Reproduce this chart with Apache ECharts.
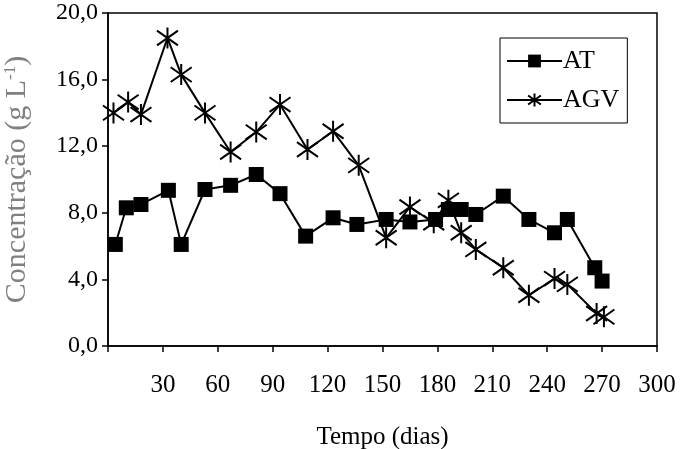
<!DOCTYPE html>
<html><head><meta charset="utf-8">
<script src="https://cdn.jsdelivr.net/npm/echarts@6/dist/echarts.min.js"></script>
<style>html,body{margin:0;padding:0;background:#fff}#c{width:682px;height:449px}</style>
</head><body><div id="c"></div>
<script>
const atDays = [4, 10, 18, 33, 40, 53, 67, 81, 94, 108, 123, 136, 152, 165, 179, 186, 193, 201, 216, 230, 244, 251, 266, 270];
const atVals = [6.1, 8.3, 8.5, 9.35, 6.1, 9.4, 9.65, 10.3, 9.15, 6.6, 7.7, 7.3, 7.6, 7.45, 7.6, 8.2, 8.2, 7.9, 9.0, 7.6, 6.8, 7.6, 4.7, 3.9];
const agvDays = [3, 11, 18, 32.5, 40, 53, 67, 81, 94, 109, 123, 137, 152, 165, 178, 186, 193, 201, 216, 230, 244, 251, 267, 271];
const agvVals = [14.0, 14.65, 13.9, 18.5, 16.3, 14.0, 11.65, 12.85, 14.5, 11.8, 12.9, 10.85, 6.5, 8.35, 7.4, 8.75, 6.8, 5.8, 4.7, 3.05, 4.05, 3.7, 1.95, 1.75];
const seriesNames = ['AT', 'AGV'];
const xName = 'Tempo (dias)';
const yName = 'Concentração (g L';

const font = '"Liberation Serif", "Times New Roman", serif';
const pair = (d, v) => d.map((x, i) => [x, v[i]]);
const star = 'path://M0,-10 L0,10 M-10,-7 L10,7 M-10,7 L10,-7';

const chart = echarts.init(document.getElementById('c'), null, {renderer: 'canvas'});
chart.setOption({
  animation: false,
  backgroundColor: '#fff',
  textStyle: {fontFamily: font, color: '#000'},
  grid: {left: 108, right: 25, top: 13, bottom: 103, outerBoundsMode: 'none', containLabel: false, show: true, borderColor: '#000', borderWidth: 1.5, backgroundColor: 'transparent'},
  legend: {
    orient: 'vertical', left: 500, top: 38,
    itemWidth: 55, itemHeight: 16, itemGap: 13,
    padding: [10, 8, 10, 6],
    borderColor: '#000', borderWidth: 1,
    textStyle: {fontFamily: font, fontSize: 26, color: '#000', padding: [2, 0, 0, -4]},
    data: seriesNames
  },
  xAxis: {
    type: 'value', min: 0, max: 300, interval: 30,
    name: xName, nameLocation: 'middle', nameGap: 79,
    nameTextStyle: {fontFamily: font, fontSize: 25, color: '#000'},
    axisLine: {show: true, onZero: false, lineStyle: {color: '#000', width: 1.5}},
    axisTick: {show: true, inside: false, length: 6, lineStyle: {color: '#000', width: 1.5}},
    axisLabel: {margin: 27, fontFamily: font, fontSize: 25, color: '#000', formatter: v => v === 0 ? '' : String(v)},
    splitLine: {show: false}
  },
  yAxis: {
    type: 'value', min: 0, max: 20, interval: 4,
    name: yName + '{sup|-1}' + ')', nameLocation: 'middle', nameGap: 76, nameRotate: 90,
    nameTextStyle: {fontFamily: font, fontSize: 30, color: '#808080', rich: {sup: {fontFamily: font, fontSize: 17, color: '#808080', verticalAlign: 'top', padding: [0, 0, 13, 0]}}},
    axisLine: {show: true, lineStyle: {color: '#000', width: 1.5}},
    axisTick: {show: true, inside: false, length: 6, lineStyle: {color: '#000', width: 1.5}},
    axisLabel: {margin: 10, fontFamily: font, fontSize: 24, color: '#000', formatter: v => v.toFixed(1).replace('.', ',')},
    splitLine: {show: false}
  },
  series: [
    {
      name: seriesNames[0], type: 'line', data: pair(atDays, atVals),
      symbol: 'rect', symbolSize: 15,
      lineStyle: {color: '#000', width: 2},
      itemStyle: {color: '#000'}
    },
    {
      name: seriesNames[1], type: 'line', data: pair(agvDays, agvVals),
      symbol: star, symbolSize: 21,
      lineStyle: {color: '#000', width: 2},
      itemStyle: {color: 'none', borderColor: '#000', borderWidth: 2}
    }
  ]
});
</script></body></html>
